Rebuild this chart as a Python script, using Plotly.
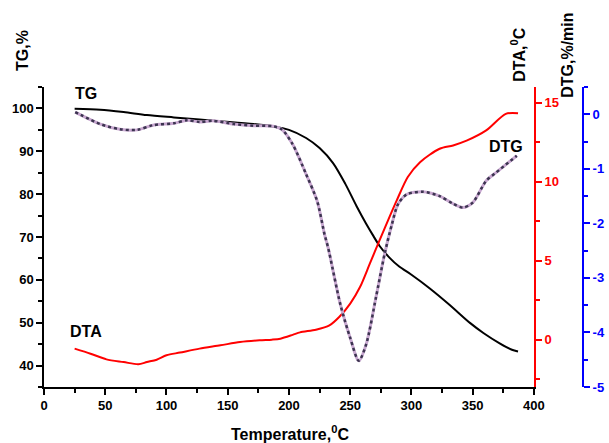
import plotly.graph_objects as go

# TG curve (left axis, %)
temp_tg = [25, 46, 65, 84, 106, 127, 149, 171, 187, 200, 214, 225, 236, 246, 255,
           263, 269, 274, 282, 290, 300, 315, 331, 348, 359, 372, 382, 387]
tg = [99.9, 99.7, 99.15, 98.45, 97.9, 97.4, 96.9, 96.35, 95.8, 95.0, 93.1, 90.75,
      87.25, 82.4, 77.3, 73.1, 70.2, 67.9, 65.2, 63.1, 61.2, 58.0, 54.2, 49.9,
      47.55, 45.2, 43.7, 43.3]

# DTA curve (red axis, deg C)
temp_dta = [25, 38, 51, 65, 77, 84, 92, 100, 111, 127, 144, 160, 176, 186, 193,
            203, 209, 222, 233, 241, 250, 258, 266, 274, 282, 288, 297, 307, 323,
            334, 345, 361, 377, 387]
dta = [-0.57, -0.89, -1.25, -1.42, -1.56, -1.42, -1.27, -0.99, -0.82, -0.57, -0.36,
       -0.15, -0.04, 0.0, 0.06, 0.3, 0.46, 0.63, 0.9, 1.43, 2.28, 3.33, 4.81, 6.3,
       7.76, 8.82, 10.3, 11.24, 12.09, 12.3, 12.6, 13.25, 14.3, 14.34]

# DTG curve (blue axis, %/min)
temp_dtg = [25.5, 46, 62, 76, 89, 106, 117, 127, 138, 155, 171, 187, 194, 203, 214,
            223, 229, 232, 242, 250, 257, 263, 271, 278, 284, 289, 296, 309, 323,
            334, 342, 350, 361, 369, 386]
dtg = [0.04, -0.18, -0.275, -0.286, -0.20, -0.165, -0.11, -0.14, -0.12, -0.18,
       -0.21, -0.22, -0.275, -0.55, -1.10, -1.59, -2.20, -2.45, -3.49, -4.10,
       -4.52, -4.22, -3.36, -2.57, -2.02, -1.65, -1.47, -1.42, -1.50, -1.64,
       -1.71, -1.62, -1.22, -1.07, -0.76]

dtg_ticks = [0, -1, -2, -3, -4, -5]
dtg_ticklabels = ['0', '-1', '-2', '-3', '-4', '-5']

FONT = 'Liberation Sans, Arial, sans-serif'

fig = go.Figure()

fig.add_trace(go.Scatter(x=temp_tg, y=tg, mode='lines', yaxis='y',
                         line=dict(color='black', width=2, shape='spline', smoothing=0.8)))
fig.add_trace(go.Scatter(x=temp_dta, y=dta, mode='lines', yaxis='y2',
                         line=dict(color='red', width=2, shape='spline', smoothing=0.8)))
# dotted multicolour look of the DTG line: light base + dark dots
fig.add_trace(go.Scatter(x=temp_dtg, y=dtg, mode='lines', yaxis='y3',
                         line=dict(color='#c8a8d0', width=3, shape='spline', smoothing=0.8)))
fig.add_trace(go.Scatter(x=temp_dtg, y=dtg, mode='lines', yaxis='y3',
                         line=dict(color='#3c3450', width=2.5, shape='spline', smoothing=0.8, dash='dot')))

tickf = dict(family=FONT, size=13, weight='bold')

fig.update_layout(
  width=609, height=443,
  margin=dict(l=44, r=26, t=87, b=56, autoexpand=False),
  paper_bgcolor='white', plot_bgcolor='white',
  showlegend=False,
  xaxis=dict(
    domain=[0, 0.909], range=[0, 400], dtick=50, tick0=0,
    showgrid=False, zeroline=False, showline=True, linecolor='black', linewidth=1.5,
    ticks='outside', ticklen=6, tickwidth=1.5, tickcolor='black',
    minor=dict(dtick=25, ticks='outside', ticklen=4, tickcolor='black', tickwidth=1.5),
    tickfont=dict(color='black', **tickf),
  ),
  yaxis=dict(
    range=[35, 105], tickvals=[40, 50, 60, 70, 80, 90, 100],
    showgrid=False, zeroline=False, showline=True, linecolor='black', linewidth=1.5,
    ticks='outside', ticklen=6, tickwidth=1.5, tickcolor='black',
    minor=dict(dtick=5, tick0=35, ticks='outside', ticklen=4, tickcolor='black', tickwidth=1.5),
    tickfont=dict(color='black', **tickf),
  ),
  yaxis2=dict(
    overlaying='y', side='right', anchor='x', range=[-3, 16], dtick=5, tick0=0,
    showgrid=False, zeroline=False, showline=True, linecolor='red', linewidth=2,
    ticks='outside', ticklen=6, tickwidth=1.5, tickcolor='red',
    minor=dict(dtick=2.5, tick0=0, ticks='outside', ticklen=4, tickcolor='red', tickwidth=1.5),
    tickfont=dict(color='red', **tickf),
  ),
  yaxis3=dict(
    overlaying='y', side='right', anchor='free', position=1, range=[-5, 0.5],
    tickvals=dtg_ticks, ticktext=dtg_ticklabels,
    showgrid=False, zeroline=False, showline=True, linecolor='blue', linewidth=2,
    ticks='outside', ticklen=6, tickwidth=1.5, tickcolor='blue',
    minor=dict(dtick=0.5, tick0=0, ticks='outside', ticklen=4, tickcolor='blue', tickwidth=1.5),
    tickfont=dict(color='blue', **tickf),
  ),
)

titlef = dict(family=FONT, size=16, color='black', weight='bold')
fig.add_annotation(text='TG,%', xref='paper', yref='paper', x=-0.041, y=1.123,
                   textangle=-90, showarrow=False, font=titlef,
                   xanchor='center', yanchor='middle')
fig.add_annotation(text='DTA,<sup>0</sup>C', xref='paper', yref='paper', x=0.879, y=1.107,
                   textangle=-90, showarrow=False, font=titlef,
                   xanchor='center', yanchor='middle')
fig.add_annotation(text='DTG,%/min', xref='paper', yref='paper', x=0.972, y=1.107,
                   textangle=-90, showarrow=False, font=titlef,
                   xanchor='center', yanchor='middle')
fig.add_annotation(text='Temperature,<sup>0</sup>C', xref='paper', yref='paper',
                   x=0.456, y=-0.153, showarrow=False, font=titlef,
                   xanchor='center', yanchor='middle')

# curve labels
labelf = dict(family=FONT, size=16, color='black', weight='bold')
fig.add_annotation(text='TG', x=34, y=103.4, xref='x', yref='y', showarrow=False, font=labelf)
fig.add_annotation(text='DTA', x=34, y=47.9, xref='x', yref='y', showarrow=False, font=labelf)
fig.add_annotation(text='DTG', x=377, y=91.1, xref='x', yref='y', showarrow=False, font=labelf)

# drop the default 8px page margin so the figure fills the window exactly
fig.write_html("out.html", config={'displayModeBar': False},
               post_script="document.body.style.margin='0';document.body.style.overflow='hidden';")
